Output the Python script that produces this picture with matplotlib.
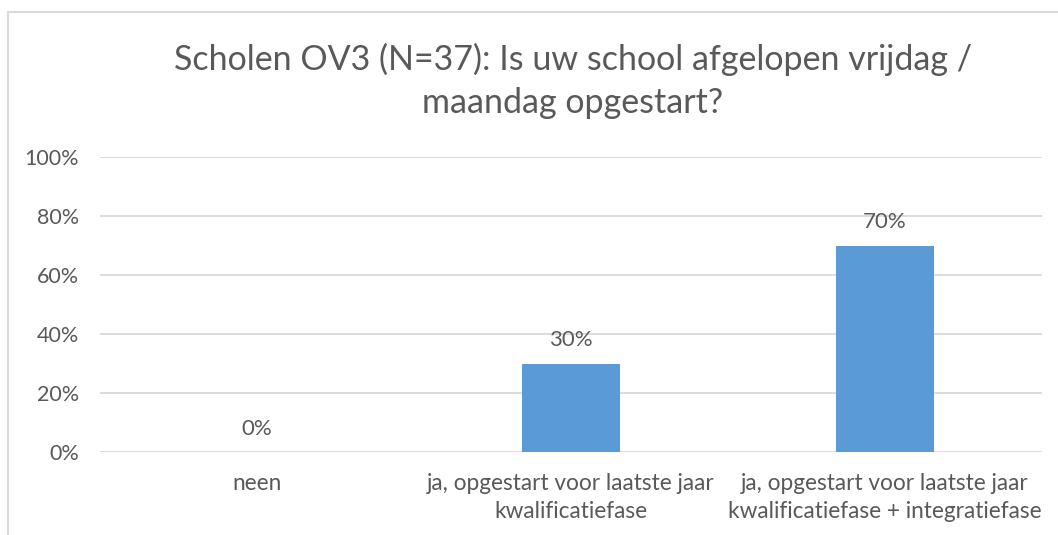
import matplotlib.pyplot as plt
import matplotlib.patches as patches
import numpy as np

# data
categories = ['neen',
              'ja, opgestart voor laatste jaar\nkwalificatiefase',
              'ja, opgestart voor laatste jaar\nkwalificatiefase + integratiefase']
values = [0, 30, 70]
yticks = [0, 20, 40, 60, 80, 100]
title = 'Scholen OV3 (N=37): Is uw school afgelopen vrijdag /\nmaandag opgestart?'

plt.rcParams['font.family'] = ['Lato', 'DejaVu Sans']
txt = '#595959'
grid = '#d9d9d9'

W, H = 1058, 535
fig = plt.figure(figsize=(W / 100, H / 100), dpi=100)
ax = fig.add_axes([100 / W, 1 - 452 / H, 942 / W, 295 / H])

x = np.arange(len(categories))
ax.bar(x, values, width=0.315, color='#5b9bd5', zorder=3)
for xi, v in zip(x, values):
    ax.text(xi, v + 4.5, f'{v}%', ha='center', va='bottom', fontsize=16, color=txt)

ax.set_xlim(-0.5, 2.5)
ax.set_ylim(0, 100)
ax.set_yticks(yticks)
ax.set_yticklabels([f'{t}%' for t in yticks], fontsize=15.5, color=txt)
ax.set_xticks(x)
ax.set_xticklabels(categories, fontsize=16.3, color=txt, linespacing=1.45)
ax.tick_params(length=0)
ax.tick_params(axis='y', pad=15)
ax.tick_params(axis='x', pad=15)
ax.grid(axis='y', color=grid, linewidth=1.3, zorder=0)
for s in ax.spines.values():
    s.set_visible(False)

fig.text(573 / W, 1 - 81 / H, title, ha='center', va='center', fontsize=24.5,
         color=txt, linespacing=1.4)

# chart border (cropped on the right and bottom)
fig.patches.append(patches.Rectangle((8 / W, -0.2), 1.2, 1.2 - 12 / H,
                                     transform=fig.transFigure, fill=False,
                                     edgecolor=grid, linewidth=1.5))

fig.savefig('out.png', dpi=100, facecolor='white')
